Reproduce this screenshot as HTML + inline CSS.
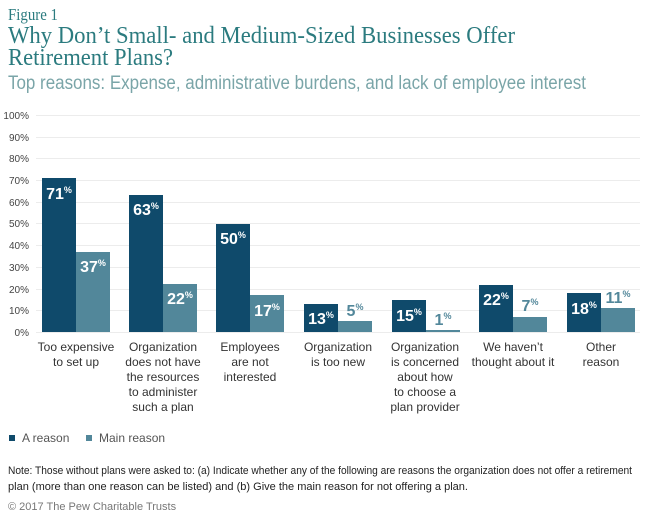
<!DOCTYPE html>
<html><head><meta charset="utf-8"><style>
body{margin:0;background:#fff;}
svg{display:block;font-family:"Liberation Sans",sans-serif;}
</style></head><body>
<svg width="650" height="517" xmlns="http://www.w3.org/2000/svg">
<text x="8" y="20" font-family="Liberation Serif,serif" font-size="17" fill="#2b7b7f" textLength="50" lengthAdjust="spacingAndGlyphs">Figure 1</text>
<text x="8" y="43" font-family="Liberation Serif,serif" font-size="24" fill="#2b7b7f" textLength="507" lengthAdjust="spacingAndGlyphs">Why Don’t Small- and Medium-Sized Businesses Offer</text>
<text x="8" y="65" font-family="Liberation Serif,serif" font-size="24" fill="#2b7b7f" textLength="165" lengthAdjust="spacingAndGlyphs">Retirement Plans?</text>
<text x="8" y="89" font-size="19" fill="#7aa5a8" textLength="578" lengthAdjust="spacingAndGlyphs">Top reasons: Expense, administrative burdens, and lack of employee interest</text>
<g stroke="#ececec" stroke-width="1">
<line x1="36" x2="640" y1="115.5" y2="115.5"/><line x1="36" x2="640" y1="137.5" y2="137.5"/><line x1="36" x2="640" y1="158.5" y2="158.5"/><line x1="36" x2="640" y1="180.5" y2="180.5"/><line x1="36" x2="640" y1="202.5" y2="202.5"/><line x1="36" x2="640" y1="223.5" y2="223.5"/><line x1="36" x2="640" y1="245.5" y2="245.5"/><line x1="36" x2="640" y1="267.5" y2="267.5"/><line x1="36" x2="640" y1="289.5" y2="289.5"/><line x1="36" x2="640" y1="310.5" y2="310.5"/><line x1="36" x2="640" y1="332.5" y2="332.5"/>
</g>
<g font-size="10" fill="#444" text-anchor="end">
<text x="29" y="119">100%</text><text x="29" y="141">90%</text><text x="29" y="162">80%</text><text x="29" y="184">70%</text><text x="29" y="206">60%</text><text x="29" y="227">50%</text><text x="29" y="249">40%</text><text x="29" y="271">30%</text><text x="29" y="293">20%</text><text x="29" y="314">10%</text><text x="29" y="336">0%</text>
</g>
<g fill="#0f4a6b">
<rect x="42" y="178" width="34" height="154"/>
<rect x="129" y="195" width="34" height="137"/>
<rect x="216" y="224" width="34" height="108"/>
<rect x="304" y="304" width="34" height="28"/>
<rect x="392" y="300" width="34" height="32"/>
<rect x="479" y="285" width="34" height="47"/>
<rect x="567" y="293" width="34" height="39"/>
</g>
<g fill="#52879a">
<rect x="76" y="252" width="34" height="80"/>
<rect x="163" y="284" width="34" height="48"/>
<rect x="250" y="295" width="34" height="37"/>
<rect x="338" y="321" width="34" height="11"/>
<rect x="426" y="330" width="34" height="2"/>
<rect x="513" y="317" width="34" height="15"/>
<rect x="601" y="308" width="34" height="24"/>
</g>
<g font-size="16" font-weight="bold" fill="#fff" text-anchor="middle">
<text x="59" y="199">71<tspan font-size="9" dy="-6">%</tspan></text>
<text x="93" y="272">37<tspan font-size="9" dy="-6">%</tspan></text>
<text x="146" y="215">63<tspan font-size="9" dy="-6">%</tspan></text>
<text x="180" y="304">22<tspan font-size="9" dy="-6">%</tspan></text>
<text x="233" y="244">50<tspan font-size="9" dy="-6">%</tspan></text>
<text x="267" y="316">17<tspan font-size="9" dy="-6">%</tspan></text>
<text x="321" y="324">13<tspan font-size="9" dy="-6">%</tspan></text>
<text x="409" y="321">15<tspan font-size="9" dy="-6">%</tspan></text>
<text x="496" y="305">22<tspan font-size="9" dy="-6">%</tspan></text>
<text x="584" y="314">18<tspan font-size="9" dy="-6">%</tspan></text>
</g>
<g font-size="16" font-weight="bold" fill="#52879a" text-anchor="middle">
<text x="355" y="316">5<tspan font-size="9" dy="-6">%</tspan></text>
<text x="443" y="325">1<tspan font-size="9" dy="-6">%</tspan></text>
<text x="530" y="311">7<tspan font-size="9" dy="-6">%</tspan></text>
<text x="618" y="303">11<tspan font-size="9" dy="-6">%</tspan></text>
</g>
<g font-size="12" fill="#333" text-anchor="middle">
<text x="76" y="351">Too expensive</text><text x="76" y="366">to set up</text>
<text x="163" y="351">Organization</text><text x="163" y="366">does not have</text><text x="163" y="381">the resources</text><text x="163" y="396">to administer</text><text x="163" y="411">such a plan</text>
<text x="250" y="351">Employees</text><text x="250" y="366">are not</text><text x="250" y="381">interested</text>
<text x="338" y="351">Organization</text><text x="338" y="366">is too new</text>
<text x="425" y="351">Organization</text><text x="425" y="366">is concerned</text><text x="425" y="381">about how</text><text x="425" y="396">to choose a</text><text x="425" y="411">plan provider</text>
<text x="513" y="351">We haven’t</text><text x="513" y="366">thought about it</text>
<text x="601" y="351">Other</text><text x="601" y="366">reason</text>
</g>
<rect x="9" y="435" width="6" height="6" fill="#0f4a6b"/>
<text x="22" y="442" font-size="12" fill="#555">A reason</text>
<rect x="86" y="435" width="6" height="6" fill="#52879a"/>
<text x="99" y="442" font-size="12" fill="#555">Main reason</text>
<text x="8" y="474" font-size="11" fill="#222" textLength="624" lengthAdjust="spacingAndGlyphs">Note: Those without plans were asked to: (a) Indicate whether any of the following are reasons the organization does not offer a retirement</text>
<text x="8" y="490" font-size="11" fill="#222" textLength="460" lengthAdjust="spacingAndGlyphs">plan (more than one reason can be listed) and (b) Give the main reason for not offering a plan.</text>
<text x="8" y="510" font-size="11" fill="#777">© 2017 The Pew Charitable Trusts</text>
</svg>
</body></html>
